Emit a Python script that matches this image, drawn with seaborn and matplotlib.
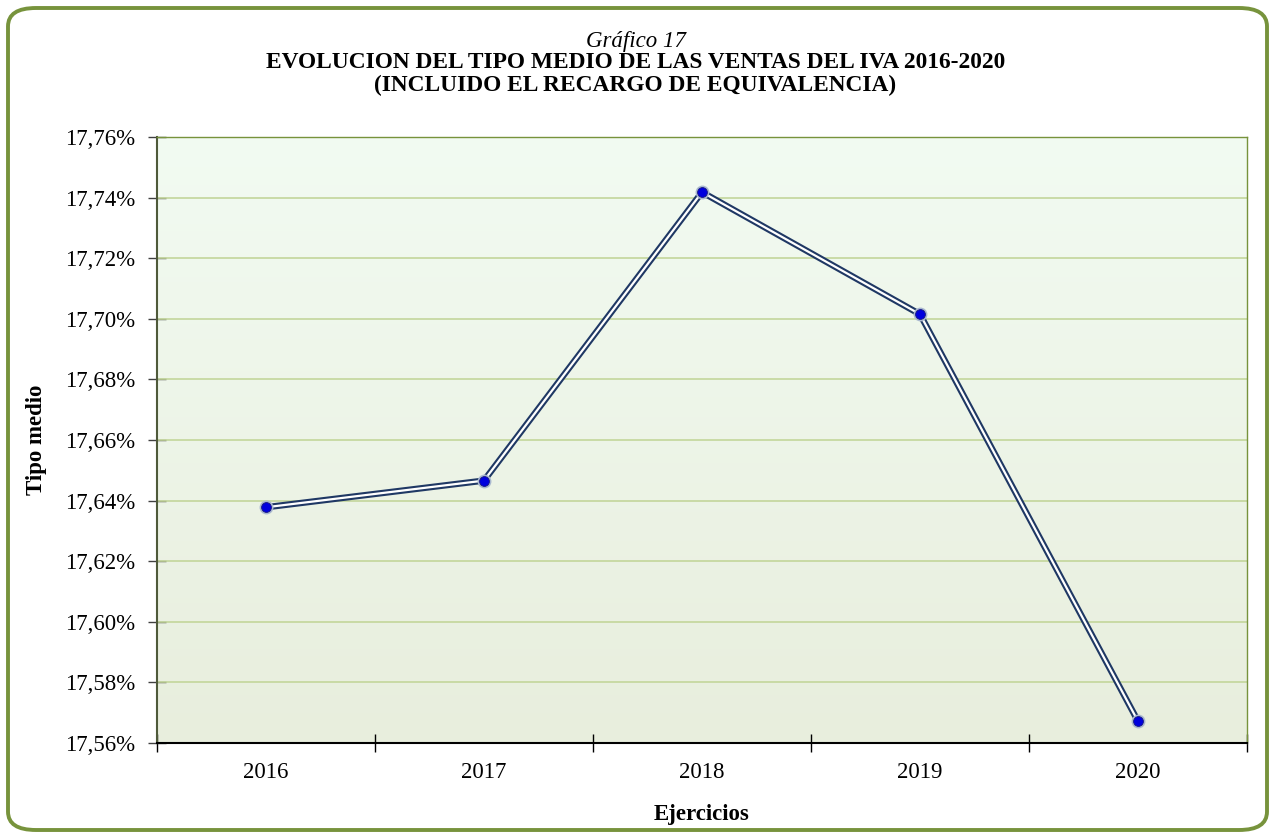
import numpy as np
import pandas as pd
import matplotlib
matplotlib.use("Agg")
import matplotlib.pyplot as plt
import seaborn as sns
from matplotlib.patches import FancyBboxPatch
from matplotlib.ticker import FixedLocator, FuncFormatter

# data
years = [2016, 2017, 2018, 2019, 2020]
tipo_medio = [17.6378, 17.6466, 17.7418, 17.7015, 17.5672]
y_ticks = [17.56, 17.58, 17.60, 17.62, 17.64, 17.66, 17.68, 17.70, 17.72, 17.74, 17.76]

sns.set_style("white")
plt.rcParams["font.family"] = ["Liberation Serif", "DejaVu Serif"]
plt.rcParams["text.color"] = "black"
plt.rcParams["axes.labelcolor"] = "black"
plt.rcParams["xtick.color"] = "black"
plt.rcParams["ytick.color"] = "black"

df = pd.DataFrame({"Ejercicio": years, "Tipo": tipo_medio})

fig = plt.figure(figsize=(12.71, 8.32), dpi=100)
ax = fig.add_axes([157 / 1271, 1 - 743 / 832, 1090 / 1271, 606 / 832])

# rounded green frame around the whole chart
frame = FancyBboxPatch((8 / 1271, 2 / 832), 1259 / 1271, 822 / 832,
                       boxstyle="round,pad=0,rounding_size=0.022",
                       transform=fig.transFigure, facecolor="white",
                       edgecolor="#77933C", linewidth=2.8, zorder=-10)
fig.patches.append(frame)

# vertical gradient background of the plot area
top_col = np.array([0xF2, 0xFB, 0xF2]) / 255
bot_col = np.array([0xE8, 0xEE, 0xDD]) / 255
t = np.linspace(0, 1, 256)[:, None]
grad = (top_col * (1 - t) + bot_col * t)[:, None, :]
ax.imshow(grad, extent=[0, 1, 0, 1], transform=ax.transAxes,
          aspect="auto", zorder=0)

ax.set_xlim(2015.5, 2020.5)
ax.set_ylim(17.56, 17.76)

for v in y_ticks[1:-1]:
    ax.axhline(v, color="#C3D69B", linewidth=1.2, zorder=1)

# double line: dark stroke with white core
sns.lineplot(data=df, x="Ejercicio", y="Tipo", ax=ax, color="#1F3864",
             linewidth=4.6, zorder=3, legend=False)
sns.lineplot(data=df, x="Ejercicio", y="Tipo", ax=ax, color="white",
             linewidth=1.6, zorder=4, legend=False)
ax.scatter(df["Ejercicio"], df["Tipo"], s=100, color="#A9B8D0", zorder=5, linewidths=0)
ax.scatter(df["Ejercicio"], df["Tipo"], s=50, color="#0000DD",
           edgecolor="#1A1A80", linewidths=0.6, zorder=6)

ax.yaxis.set_major_locator(FixedLocator(y_ticks))
ax.yaxis.set_major_formatter(FuncFormatter(lambda v, p: f"{v:.2f}%".replace(".", ",")))
ax.xaxis.set_major_locator(FixedLocator(years))
ax.xaxis.set_minor_locator(FixedLocator([y - 0.5 for y in years] + [2020.5]))
ax.tick_params(axis="x", which="major", bottom=True, length=0, labelsize=16.5, pad=14)
ax.tick_params(axis="x", which="minor", bottom=True, length=13, direction="inout",
               color="black", width=1)
ax.tick_params(axis="y", left=True, length=13, direction="inout", color="#404040", width=1,
               labelsize=16.5, pad=9)

for side in ["top", "right"]:
    ax.spines[side].set_color("#77933C")
    ax.spines[side].set_linewidth(1)
ax.spines["left"].set_color("#4F5A3A")
ax.spines["left"].set_linewidth(1.5)
ax.spines["bottom"].set_color("black")
ax.spines["bottom"].set_linewidth(1.5)

ax.set_xlabel("Ejercicios", fontsize=16.5, fontweight="bold", labelpad=15)
ax.set_ylabel("Tipo medio", fontsize=16.5, fontweight="bold", labelpad=13)

fig.text(0.5, 1 - 41 / 832, "Gráfico 17", ha="center", va="center",
         fontsize=16.5, style="italic")
fig.text(0.5, 1 - 63 / 832, "EVOLUCION DEL TIPO MEDIO DE LAS VENTAS DEL IVA 2016-2020",
         ha="center", va="center", fontsize=16.8, fontweight="bold")
fig.text(0.5, 1 - 85 / 832, "(INCLUIDO EL RECARGO DE EQUIVALENCIA)",
         ha="center", va="center", fontsize=16.8, fontweight="bold")

fig.savefig("out.png", dpi=100)
